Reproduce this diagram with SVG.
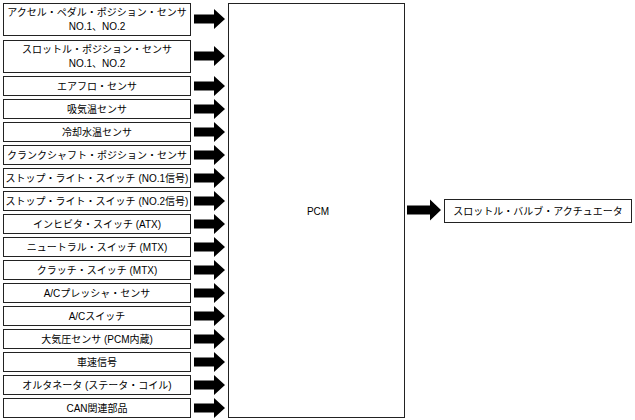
<svg xmlns="http://www.w3.org/2000/svg" width="635" height="420" viewBox="0 0 635 420">
<defs>
<style>
.box{fill:#fff;stroke:#222;stroke-width:1}
.t{font-family:"Liberation Sans","Noto Sans CJK JP",sans-serif;font-size:10px;fill:#000;text-anchor:middle}
.arr{fill:#000}
</style>
<path id="a" d="M0,-4.5 L20,-4.5 L20,-10 L31,0 L20,10 L20,4.5 L0,4.5 Z"/>
<path id="b" d="M0,-4.5 L23,-4.5 L23,-10.5 L34,0 L23,10.5 L23,4.5 L0,4.5 Z"/>
</defs>
<g id="pcm"><rect class="box" x="228.5" y="3.5" width="176" height="414"/><text class="t" x="318" y="215">PCM</text></g>
<g id="n1"><rect class="box" x="3.5" y="3.5" width="187" height="32"/><text class="t" x="97" y="16">アクセル・ペダル・ポジション・センサ</text><text class="t" x="97" y="30">NO.1、NO.2</text></g>
<g id="n2"><rect class="box" x="3.5" y="40.5" width="187" height="32"/><text class="t" x="97" y="53">スロットル・ポジション・センサ</text><text class="t" x="97" y="67">NO.1、NO.2</text></g>
<g id="n3"><rect class="box" x="3.5" y="76.5" width="187" height="19"/><text class="t" x="97" y="90">エアフロ・センサ</text></g>
<g id="n4"><rect class="box" x="3.5" y="99.5" width="187" height="19"/><text class="t" x="97" y="113">吸気温センサ</text></g>
<g id="n5"><rect class="box" x="3.5" y="122.5" width="187" height="19"/><text class="t" x="97" y="136">冷却水温センサ</text></g>
<g id="n6"><rect class="box" x="3.5" y="145.5" width="187" height="19"/><text class="t" x="97" y="159">クランクシャフト・ポジション・センサ</text></g>
<g id="n7"><rect class="box" x="3.5" y="168.5" width="187" height="19"/><text class="t" x="97" y="182">ストップ・ライト・スイッチ (NO.1信号)</text></g>
<g id="n8"><rect class="box" x="3.5" y="191.5" width="187" height="19"/><text class="t" x="97" y="205">ストップ・ライト・スイッチ (NO.2信号)</text></g>
<g id="n9"><rect class="box" x="3.5" y="214.5" width="187" height="19"/><text class="t" x="97" y="228">インヒビタ・スイッチ (ATX)</text></g>
<g id="n10"><rect class="box" x="3.5" y="237.5" width="187" height="19"/><text class="t" x="97" y="251">ニュートラル・スイッチ (MTX)</text></g>
<g id="n11"><rect class="box" x="3.5" y="260.5" width="187" height="19"/><text class="t" x="97" y="274">クラッチ・スイッチ (MTX)</text></g>
<g id="n12"><rect class="box" x="3.5" y="283.5" width="187" height="19"/><text class="t" x="97" y="297">A/Cプレッシャ・センサ</text></g>
<g id="n13"><rect class="box" x="3.5" y="306.5" width="187" height="19"/><text class="t" x="97" y="320">A/Cスイッチ</text></g>
<g id="n14"><rect class="box" x="3.5" y="329.5" width="187" height="19"/><text class="t" x="97" y="343">大気圧センサ (PCM内蔵)</text></g>
<g id="n15"><rect class="box" x="3.5" y="352.5" width="187" height="19"/><text class="t" x="97" y="366">車速信号</text></g>
<g id="n16"><rect class="box" x="3.5" y="375.5" width="187" height="19"/><text class="t" x="97" y="389">オルタネータ (ステータ・コイル)</text></g>
<g id="n17"><rect class="box" x="3.5" y="398.5" width="187" height="19"/><text class="t" x="97" y="412">CAN関連部品</text></g>
<g id="out"><rect class="box" x="444.5" y="199.5" width="187" height="23"/><text class="t" x="538" y="215">スロットル・バルブ・アクチュエータ</text></g>
<g id="connectors" class="arr">
<use href="#a" x="194" y="19"/>
<use href="#a" x="194" y="56"/>
<use href="#a" x="194" y="86"/>
<use href="#a" x="194" y="109"/>
<use href="#a" x="194" y="132"/>
<use href="#a" x="194" y="155"/>
<use href="#a" x="194" y="178"/>
<use href="#a" x="194" y="201"/>
<use href="#a" x="194" y="224"/>
<use href="#a" x="194" y="247"/>
<use href="#a" x="194" y="270"/>
<use href="#a" x="194" y="293"/>
<use href="#a" x="194" y="316"/>
<use href="#a" x="194" y="339"/>
<use href="#a" x="194" y="362"/>
<use href="#a" x="194" y="385"/>
<use href="#a" x="194" y="408"/>
<use href="#b" x="407" y="210"/>
</g>
</svg>
